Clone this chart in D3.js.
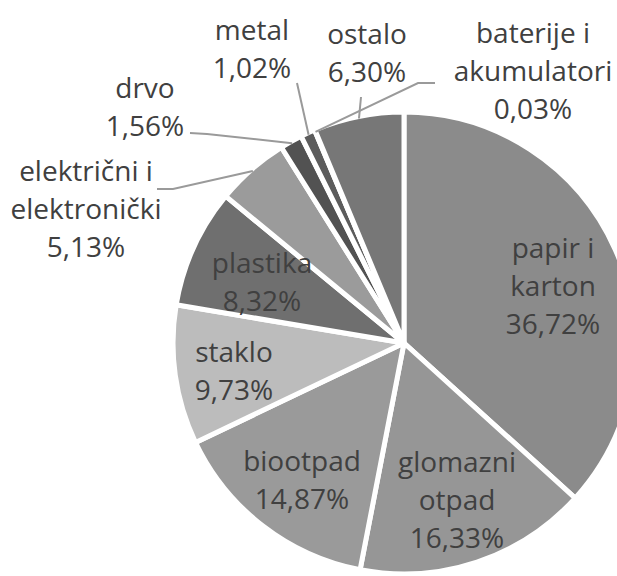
<!DOCTYPE html>
<html>
<head>
<meta charset="utf-8">
<script src="https://cdn.jsdelivr.net/npm/d3@7"></script>
<style>
  html, body { margin: 0; padding: 0; background: #ffffff; }
  svg { display: block; }
  text { font-family: "Open Sans", "Noto Sans", sans-serif; }
</style>
</head>
<body>
<svg id="chart" width="617" height="576"></svg>
<script>
// ---- data ----
const categories = [
  "papir i karton", "glomazni otpad", "biootpad", "staklo", "plastika",
  "električni i elektronički", "drvo", "metal", "baterije i akumulatori", "ostalo"
];
const values = [36.72, 16.33, 14.87, 9.73, 8.32, 5.13, 1.56, 1.02, 0.03, 6.30];
const labelLines = [
  ["papir i", "karton"],
  ["glomazni", "otpad"],
  ["biootpad"],
  ["staklo"],
  ["plastika"],
  ["električni i", "elektronički"],
  ["drvo"],
  ["metal"],
  ["baterije i", "akumulatori"],
  ["ostalo"]
];
const percentLabels = ["36,72%", "16,33%", "14,87%", "9,73%", "8,32%", "5,13%", "1,56%", "1,02%", "0,03%", "6,30%"];

// ---- styles / layout (kept apart from data) ----
const colors = ["#8b8b8b", "#969696", "#9a9a9a", "#bcbcbc", "#6f6f6f", "#9b9b9b", "#525252", "#5c5c5c", "#8a8a8a", "#777777"];
// label block centre (x) and first-line centre (y); leader anchor points (if any)
const labelLayout = [
  { x: 553, y: 248 },
  { x: 457, y: 462 },
  { x: 302, y: 461 },
  { x: 234, y: 352 },
  { x: 262, y: 263 },
  { x: 86,  y: 171, leader: [[157, 189], [173, 189]] },
  { x: 145, y: 88,  leader: [[190, 133], [207, 134]] },
  { x: 252, y: 30,  leader: [[297, 83]] },
  { x: 533, y: 33,  leader: [[435, 83], [418, 83]] },
  { x: 367, y: 34,  leader: [[361, 97]] }
];

const width = 617, height = 576;
const cx = 404, cy = 343, radius = 231;
const lineH = 38;

const svg = d3.select("#chart");
const g = svg.append("g").attr("transform", `translate(${cx},${cy})`);

const data = categories.map((c, i) => ({ name: c, value: values[i], i }));
const pie = d3.pie().sort(null).value(d => d.value).startAngle(0).endAngle(2 * Math.PI);
const arcs = pie(data);
const arc = d3.arc().innerRadius(0).outerRadius(radius);

g.selectAll("path.slice")
  .data(arcs)
  .join("path")
  .attr("class", "slice")
  .attr("d", arc)
  .attr("fill", d => colors[d.data.i])
  .attr("stroke", "#ffffff")
  .attr("stroke-width", 5)
  .attr("stroke-linejoin", "round");

// leader lines
const edgeArc = d3.arc().innerRadius(radius - 2).outerRadius(radius - 2);
arcs.forEach(a => {
  const lay = labelLayout[a.data.i];
  if (!lay.leader) return;
  const [ex, ey] = edgeArc.centroid(a);
  const pts = lay.leader.map(p => [p[0], p[1]]).concat([[ex + cx, ey + cy]]);
  svg.append("path")
    .attr("d", d3.line()(pts))
    .attr("fill", "none")
    .attr("stroke", "#9a9a9a")
    .attr("stroke-width", 2);
});

// labels
arcs.forEach(a => {
  const i = a.data.i;
  const lay = labelLayout[i];
  const lines = labelLines[i].concat([percentLabels[i]]);
  const t = svg.append("text")
    .attr("text-anchor", "middle")
    .attr("font-size", 28)
    .attr("fill", "#404040");
  lines.forEach((ln, k) => {
    t.append("tspan")
      .attr("x", lay.x)
      .attr("y", lay.y + k * lineH)
      .attr("dy", "0.36em")
      .text(ln);
  });
});
</script>
</body>
</html>
